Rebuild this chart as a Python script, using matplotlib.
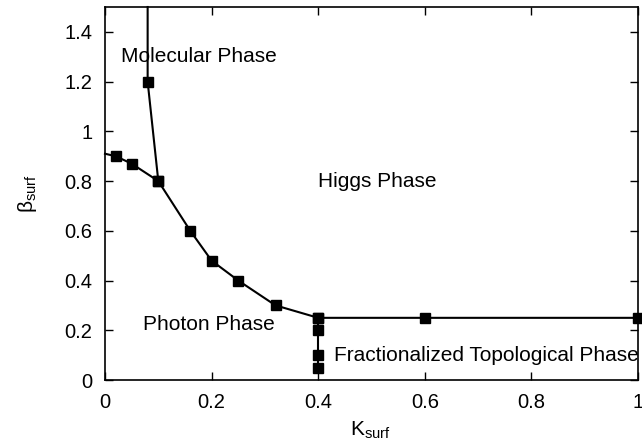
import matplotlib

matplotlib.use("Agg")
import matplotlib.pyplot as plt

plt.rcParams["font.family"] = ["Liberation Sans", "DejaVu Sans"]
plt.rcParams["mathtext.fontset"] = "custom"
plt.rcParams["mathtext.rm"] = "Liberation Sans"
plt.rcParams["mathtext.it"] = "Liberation Sans"

# molecular / higgs boundary (top end runs out of the frame, no marker there)
mol_k = [0.08, 0.08, 0.10]
mol_b = [1.50, 1.20, 0.80]
mol_mark = [1, 2]

# photon / higgs boundary, then higgs / topological boundary
ph_k = [0.0, 0.02, 0.05, 0.10, 0.16, 0.20, 0.25, 0.32, 0.40, 0.60, 1.00]
ph_b = [0.91, 0.90, 0.87, 0.80, 0.60, 0.48, 0.40, 0.30, 0.25, 0.25, 0.25]
ph_mark = list(range(1, 11))

# photon / topological boundary
top_k = [0.40, 0.40, 0.40, 0.40]
top_b = [0.25, 0.20, 0.10, 0.05]

labels = ["Molecular Phase", "Higgs Phase", "Photon Phase",
          "Fractionalized Topological Phase"]
label_pos = [(0.03, 1.30), (0.40, 0.80), (0.071, 0.225), (0.43, 0.10)]

fig = plt.figure(figsize=(6.42, 4.44), dpi=100)
ax = fig.add_axes([105 / 642, 64 / 444, 533 / 642, 373 / 444])

style = dict(color="black", lw=1.5, marker="s", ms=6.5, clip_on=False)
ax.plot(mol_k, mol_b, markevery=mol_mark, **style)
ax.plot(ph_k, ph_b, markevery=ph_mark, **style)
ax.plot(top_k, top_b, **style)

for txt, (x, y) in zip(labels, label_pos):
    ax.text(x, y, txt, fontsize=15, va="center", ha="left")

ax.set_xlim(0, 1)
ax.set_ylim(0, 1.5)
ax.set_xticks([0, 0.2, 0.4, 0.6, 0.8, 1.0])
ax.set_xticklabels(["0", "0.2", "0.4", "0.6", "0.8", "1"])
ax.set_yticks([0, 0.2, 0.4, 0.6, 0.8, 1.0, 1.2, 1.4])
ax.set_yticklabels(["0", "0.2", "0.4", "0.6", "0.8", "1", "1.2", "1.4"])
ax.tick_params(direction="in", top=True, right=True, length=6, width=1,
               labelsize=14.5, pad=9)
for s in ax.spines.values():
    s.set_linewidth(1.2)

ax.set_xlabel(r"K$_{\mathrm{surf}}$", fontsize=15, va="center")
ax.xaxis.set_label_coords(0.497, -0.134)
ax.set_ylabel(r"$\beta_{\mathrm{surf}}$", fontsize=15, va="center")
ax.yaxis.set_label_coords(-0.146, 0.5)

fig.savefig("out.png", dpi=100)
